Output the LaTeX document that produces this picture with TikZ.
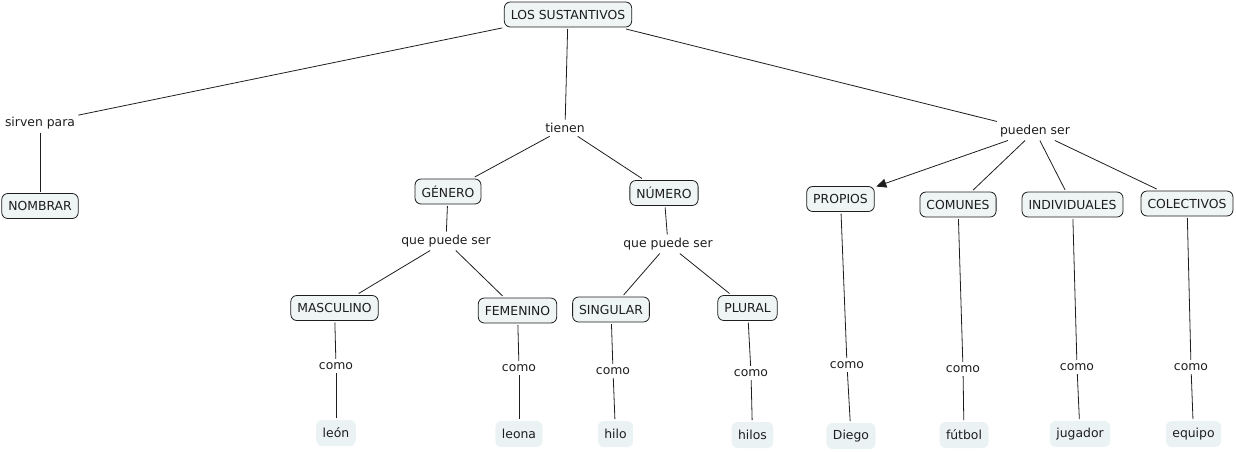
\documentclass[tikz,border=0pt]{standalone}
\usepackage{fontspec}
\setmainfont{DejaVu Sans}
\usetikzlibrary{arrows.meta}
\definecolor{cfill}{HTML}{EFF4F5}
\definecolor{lfill}{HTML}{EBF2F4}
\definecolor{ink}{HTML}{1E1E1E}
\begin{document}
\begin{tikzpicture}[x=1pt,y=-1pt,
  every node/.style={font=\fontsize{12.4}{14}\selectfont, text=ink},
  concept/.style={draw=ink, line width=0.8pt, fill=cfill, rounded corners=6pt,
    inner xsep=6.5pt, minimum height=25pt, outer sep=2pt},
  leaf/.style={fill=lfill, rounded corners=6pt, inner xsep=6.5pt, minimum height=26pt, outer sep=2pt},
  phrase/.style={inner sep=2.5pt, outer sep=1pt},
  link/.style={draw=ink, line width=0.8pt},
  arrowlink/.style={link, -{Triangle[length=10pt,width=9pt]}}
]
\useasboundingbox (0,0) rectangle (1236,451);
% nodes
\node[concept] (top) at (568,14.5) {LOS SUSTANTIVOS};
\node[phrase] (sirven) at (40,123) {sirven para};
\node[concept] (nombrar) at (40,206) {NOMBRAR};
\node[phrase] (tienen) at (565,128) {tienen};
\node[concept] (genero) at (448,191.5) {GÉNERO};
\node[concept] (numero) at (664,193) {NÚMERO};
\node[phrase] (qpsa) at (446,241) {que puede ser};
\node[phrase] (qpsb) at (668,244) {que puede ser};
\node[concept] (masc) at (334.5,308) {MASCULINO};
\node[concept] (fem) at (517.5,310.5) {FEMENINO};
\node[concept] (sing) at (611,309.5) {SINGULAR};
\node[concept] (plural) at (747.5,308) {PLURAL};
\node[phrase] (comoa) at (336,366) {como};
\node[phrase] (comob) at (519,368) {como};
\node[phrase] (comoc) at (613,371) {como};
\node[phrase] (comod) at (751,373) {como};
\node[leaf] (leon) at (336,433) {león};
\node[leaf] (leona) at (519,434) {leona};
\node[leaf] (hilo) at (615.5,434) {hilo};
\node[leaf] (hilos) at (752.5,435) {hilos};
\node[phrase] (pueden) at (1035,131) {pueden ser};
\node[concept] (propios) at (840.5,199) {PROPIOS};
\node[concept] (comunes) at (958,204.5) {COMUNES};
\node[concept] (indiv) at (1072.5,204.5) {INDIVIDUALES};
\node[concept] (colect) at (1187,203.5) {COLECTIVOS};
\node[phrase] (comoe) at (847,365) {como};
\node[phrase] (comof) at (963,369) {como};
\node[phrase] (comog) at (1077,367) {como};
\node[phrase] (comoh) at (1191,367) {como};
\node[leaf] (diego) at (851,436) {Diego};
\node[leaf] (futbol) at (964,435) {fútbol};
\node[leaf] (jugador) at (1080,434) {jugador};
\node[leaf] (equipo) at (1193.5,434) {equipo};
% links
\draw[link] (top) -- (sirven);
\draw[link] (sirven) -- (nombrar);
\draw[link] (top) -- (tienen);
\draw[link] (tienen) -- (genero);
\draw[link] (tienen) -- (numero);
\draw[link] (genero) -- (qpsa);
\draw[link] (numero) -- (qpsb);
\draw[link] (qpsa) -- (masc);
\draw[link] (qpsa) -- (fem);
\draw[link] (qpsb) -- (sing);
\draw[link] (qpsb) -- (plural);
\draw[link] (masc) -- (comoa);
\draw[link] (comoa) -- (leon);
\draw[link] (fem) -- (comob);
\draw[link] (comob) -- (leona);
\draw[link] (sing) -- (comoc);
\draw[link] (comoc) -- (hilo);
\draw[link] (plural) -- (comod);
\draw[link] (comod) -- (hilos);
\draw[link] (top) -- (pueden);
\draw[arrowlink] (pueden) -- (propios);
\draw[link] (pueden) -- (comunes);
\draw[link] (pueden) -- (indiv);
\draw[link] (pueden) -- (colect);
\draw[link] (propios) -- (comoe);
\draw[link] (comoe) -- (diego);
\draw[link] (comunes) -- (comof);
\draw[link] (comof) -- (futbol);
\draw[link] (indiv) -- (comog);
\draw[link] (comog) -- (jugador);
\draw[link] (colect) -- (comoh);
\draw[link] (comoh) -- (equipo);
\end{tikzpicture}
\end{document}
